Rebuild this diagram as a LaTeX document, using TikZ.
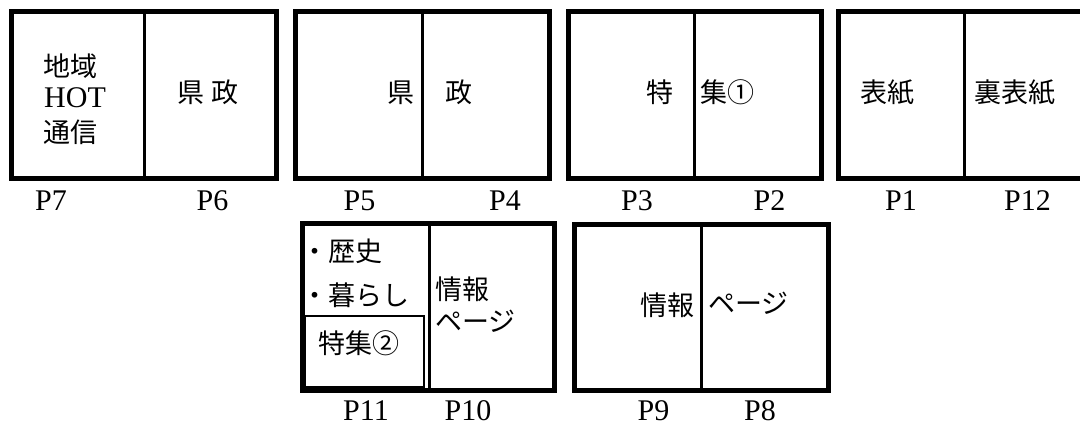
\documentclass[tikz,border=0pt]{standalone}
\usepackage{fontspec}
\setmainfont{Liberation Serif}
\newfontfamily\jpfont{Noto Sans CJK JP}
\begin{document}
\begin{tikzpicture}[x=1pt,y=-1pt,
		spread/.style={line width=5pt},
		fold/.style={line width=3pt},
		subbox/.style={line width=1.5pt},
		jp/.style={font=\jpfont\fontsize{27}{31}\selectfont,inner sep=0pt},
		pnum/.style={font=\fontsize{30}{33}\selectfont,inner sep=0pt}]
		\clip (0,0) rectangle (1080,426);
		% upper row
		\draw [spread] (11.5,11) rectangle (276.5,178.5);
		\draw [fold] (144.5,11)--(144.5,178.5);
		\draw [spread] (295.5,11) rectangle (549.5,178.5);
		\draw [fold] (422.3,11)--(422.3,178.5);
		\draw [spread] (568,11) rectangle (821,178.5);
		\draw [fold] (694.3,11)--(694.3,178.5);
		\draw [spread] (838,11) rectangle (1091,178.5);
		\draw [fold] (964.5,11)--(964.5,178.5);

		% lower row
		\draw [spread] (302,223) rectangle (554.5,390.5);
		\draw [subbox] (305,316) rectangle (424,387);
		\draw [fold] (429,223)--(429,390.5);
		\draw [spread] (574,224) rectangle (828.5,390.5);
		\draw [fold] (701,224)--(701,390.5);

		% page contents
		\node [jp,anchor=west] (chiiki) at (43,66) {地域};
		\node [pnum,anchor=west] (hot) at (44,98) {HOT};
		\node [jp,anchor=west] (tsushin) at (43,132) {通信};
		\node [jp] (kensei) at (208,92.5) {県\hspace{8pt}政};
		\node [jp] (ken) at (401,92.5) {県};
		\node [jp] (sei) at (458.5,92.5) {政};
		\node [jp] (toku) at (659.5,92.5) {特};
		\node [jp,anchor=west] (shu) at (700,92.5) {集①};
		\node [jp] (hyoshi) at (887.5,92.5) {表紙};
		\node [jp] (urahyoshi) at (1014.5,92.5) {裏表紙};

		\node [jp,anchor=west] (rekishi) at (301,251) {・歴史};
		\node [jp,anchor=west] (kurashi) at (301,295) {・暮らし};
		\node [jp] (tokushu) at (359,343) {特集②};
		\node [jp,anchor=west] (joho) at (435,289) {情報};
		\node [jp,anchor=west] (page) at (435,321.5) {ページ};
		\node [jp,anchor=east] (joho2) at (695,305) {情報};
		\node [jp,anchor=west] (page2) at (708,303.5) {ページ};

		% page numbers
		\node [pnum] (p7) at (51,201) {P7};
		\node [pnum] (p6) at (212.5,201) {P6};
		\node [pnum] (p5) at (359.5,201) {P5};
		\node [pnum] (p4) at (505,201) {P4};
		\node [pnum] (p3) at (637,201) {P3};
		\node [pnum] (p2) at (769.5,201) {P2};
		\node [pnum] (p1) at (901,201) {P1};
		\node [pnum] (p12) at (1027.5,201) {P12};
		\node [pnum] (p11) at (366,411) {P11};
		\node [pnum] (p10) at (468,411) {P10};
		\node [pnum] (p9) at (653.5,411) {P9};
		\node [pnum] (p8) at (760,411) {P8};
\end{tikzpicture}
\end{document}
